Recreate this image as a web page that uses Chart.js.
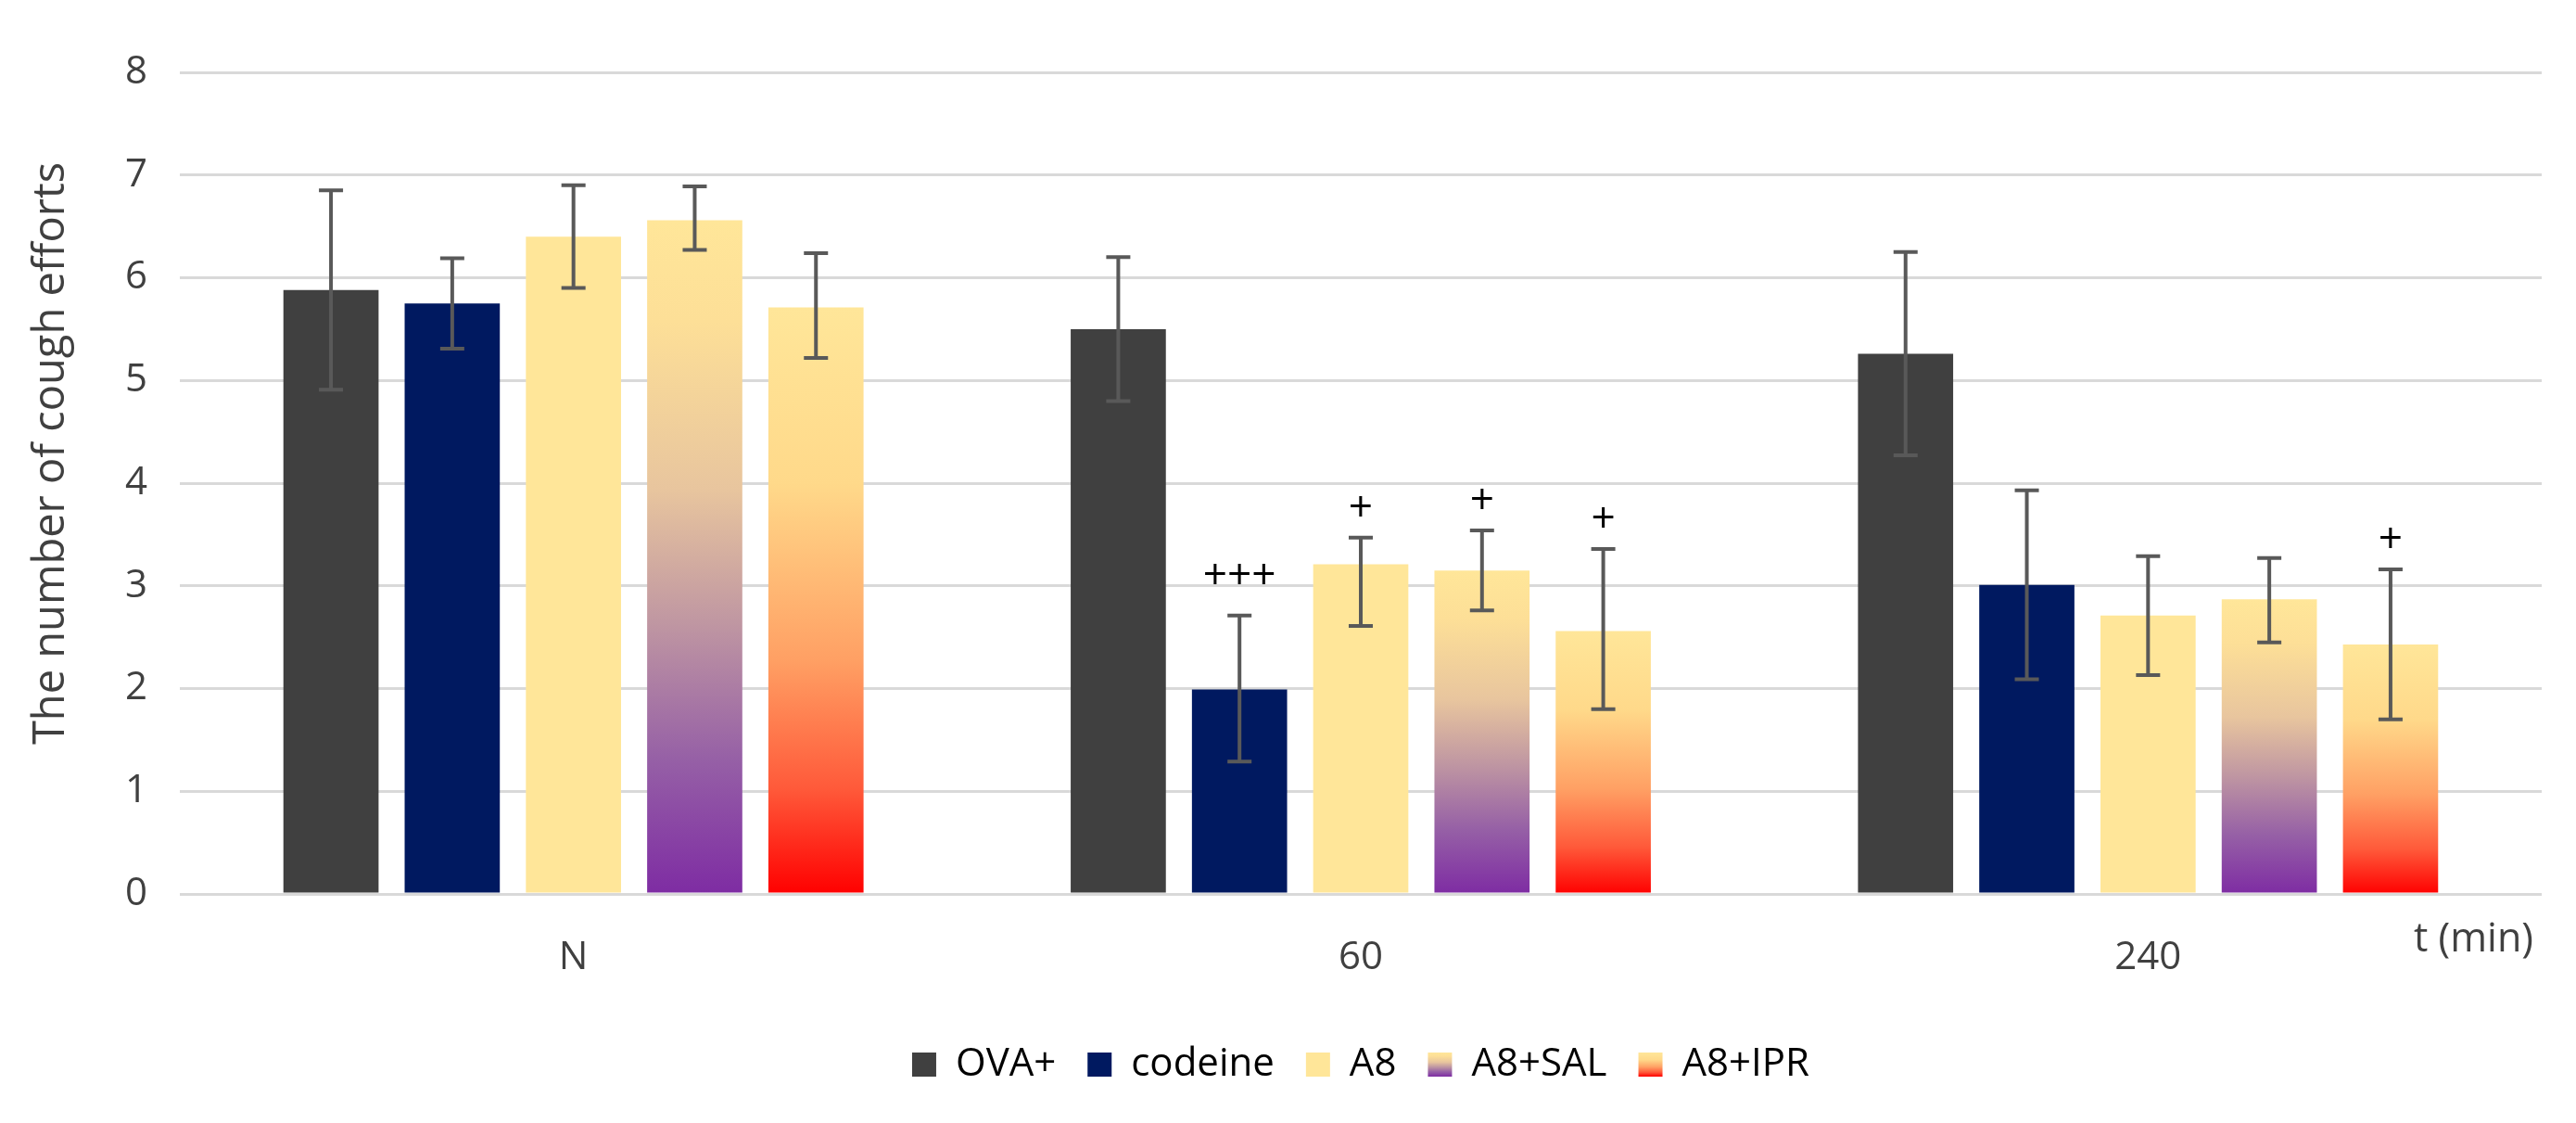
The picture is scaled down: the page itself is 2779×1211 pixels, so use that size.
<!DOCTYPE html>
<html>
<head>
<meta charset="utf-8">
<title>Cough efforts</title>
<script src="https://cdn.jsdelivr.net/npm/chart.js@4.4.1/dist/chart.umd.min.js"></script>
<style>
  html, body { margin: 0; padding: 0; background: #fff; }
  #wrap { width: 2779px; height: 1211px; position: relative; }
</style>
</head>
<body>
<div id="wrap"><canvas id="coughChart"></canvas></div>
<script>
// data
const categories = ['N', '60', '240'];
const seriesNames = ['OVA+', 'codeine', 'A8', 'A8+SAL', 'A8+IPR'];

const ovaValues = [5.88, 5.50, 5.26];
const codeineValues = [5.75, 1.99, 3.01];
const a8Values = [6.40, 3.21, 2.71];
const salValues = [6.56, 3.15, 2.87];
const iprValues = [5.71, 2.56, 2.43];

// error bars, upper and lower half
const ovaErrUp = [0.97, 0.70, 0.99];
const ovaErrDown = [0.97, 0.70, 0.99];
const codeineErrUp = [0.44, 0.72, 0.92];
const codeineErrDown = [0.44, 0.70, 0.92];
const a8ErrUp = [0.50, 0.26, 0.58];
const a8ErrDown = [0.50, 0.60, 0.58];
const salErrUp = [0.33, 0.39, 0.40];
const salErrDown = [0.29, 0.39, 0.42];
const iprErrUp = [0.53, 0.80, 0.73];
const iprErrDown = [0.49, 0.76, 0.73];

// significance marks above the error bars
const ovaMarks = ['', '', ''];
const codeineMarks = ['', '+++', ''];
const a8Marks = ['', '+', ''];
const salMarks = ['', '+', ''];
const iprMarks = ['', '+', '+'];

const yTicks = [0, 1, 2, 3, 4, 5, 6, 7, 8];

const FONT = "'Open Sans', 'Liberation Sans', sans-serif";

// gradient stops, top of bar -> bottom of bar
const salStops = [[0, '#FFE699'], [0.15, '#FDDF97'], [0.4, '#E8C59E'], [0.6, '#BF96A2'], [0.8, '#9660A6'], [1, '#7E2CA3']];
const iprStops = [[0, '#FFE699'], [0.3, '#FFD98A'], [0.6, '#FFA064'], [0.82, '#FF5A3A'], [1, '#FF0000']];

function barGradient(stops) {
    return function (ctx) {
        const chart = ctx.chart;
        if (!chart.chartArea || ctx.type !== 'data') return stops[0][1];
        const y = chart.scales.y;
        const top = y.getPixelForValue(ctx.raw);
        const base = y.getPixelForValue(0);
        if (!isFinite(top) || base - top < 1) return stops[0][1];
        const g = chart.ctx.createLinearGradient(0, top, 0, base);
        stops.forEach(s => g.addColorStop(s[0], s[1]));
        return g;
    };
}

const errUpSets = [ovaErrUp, codeineErrUp, a8ErrUp, salErrUp, iprErrUp];
const errDownSets = [ovaErrDown, codeineErrDown, a8ErrDown, salErrDown, iprErrDown];
const markSets = [ovaMarks, codeineMarks, a8Marks, salMarks, iprMarks];
const legendStops = [null, null, null, salStops, iprStops];

// error bars + significance marks
const errorBarPlugin = {
    id: 'errorBars',
    afterDatasetsDraw(chart) {
        const ctx = chart.ctx;
        const y = chart.scales.y;
        ctx.save();
        chart.data.datasets.forEach((ds, i) => {
            const meta = chart.getDatasetMeta(i);
            meta.data.forEach((bar, j) => {
                const v = ds.data[j];
                const yTop = y.getPixelForValue(v + errUpSets[i][j]);
                const yBot = y.getPixelForValue(v - errDownSets[i][j]);
                ctx.strokeStyle = '#595959';
                ctx.lineWidth = 4;
                ctx.beginPath();
                ctx.moveTo(bar.x, yTop);
                ctx.lineTo(bar.x, yBot);
                ctx.moveTo(bar.x - 13, yTop);
                ctx.lineTo(bar.x + 13, yTop);
                ctx.moveTo(bar.x - 13, yBot);
                ctx.lineTo(bar.x + 13, yBot);
                ctx.stroke();
                const mark = markSets[i][j];
                if (mark) {
                    ctx.fillStyle = '#000';
                    ctx.font = '46px ' + FONT;
                    ctx.textAlign = 'center';
                    ctx.textBaseline = 'middle';
                    ctx.fillText(mark, bar.x, yTop - (mark.length > 1 ? 42 : 31));
                }
            });
        });
        ctx.restore();
    }
};

// y title and the "t (min)" unit label
const extraTextPlugin = {
    id: 'extraText',
    afterDraw(chart) {
        const ctx = chart.ctx;
        const area = chart.chartArea;
        ctx.save();
        ctx.fillStyle = '#404040';
        ctx.font = '47px ' + FONT;
        ctx.textAlign = 'center';
        ctx.textBaseline = 'middle';
        ctx.translate(56, (area.top + area.bottom) / 2 - 32);
        ctx.rotate(-Math.PI / 2);
        ctx.fillText('The number of cough efforts', 0, 0);
        ctx.restore();

        ctx.save();
        ctx.fillStyle = '#404040';
        ctx.font = '43px ' + FONT;
        ctx.textAlign = 'right';
        ctx.textBaseline = 'middle';
        ctx.fillText('t (min)', area.right - 9, area.bottom + 50);
        ctx.restore();
    }
};

// legend centred under the plot area, gradient legend boxes
const legendPlugin = {
    id: 'legendTweak',
    afterLayout(chart) {
        const lg = chart.legend;
        const shift = (chart.chartArea.left + chart.chartArea.right) / 2 - (lg.left + lg.right) / 2;
        lg.left += shift;
        lg.right += shift;
    },
    beforeDraw(chart) {
        const lg = chart.legend;
        if (!lg || !lg.legendHitBoxes) return;
        lg.legendItems.forEach((item, i) => {
            const stops = legendStops[item.datasetIndex];
            const hit = lg.legendHitBoxes[i];
            if (!stops || !hit) return;
            const top = hit.top + Math.max((42 - 26) / 2, 0);
            const g = chart.ctx.createLinearGradient(0, top, 0, top + 26);
            stops.forEach(s => g.addColorStop(s[0], s[1]));
            item.fillStyle = g;
        });
    }
};

function makeDataset(label, data, color) {
    return {
        label: label,
        data: data,
        backgroundColor: color,
        borderWidth: 0,
        categoryPercentage: 0.77,
        barPercentage: 0.785
    };
}

const chart = new Chart(document.getElementById('coughChart'), {
    type: 'bar',
    data: {
        labels: categories,
        datasets: [
            makeDataset(seriesNames[0], ovaValues, '#404040'),
            makeDataset(seriesNames[1], codeineValues, '#001960'),
            makeDataset(seriesNames[2], a8Values, '#FFE699'),
            makeDataset(seriesNames[3], salValues, barGradient(salStops)),
            makeDataset(seriesNames[4], iprValues, barGradient(iprStops))
        ]
    },
    options: {
        responsive: true,
        maintainAspectRatio: false,
        devicePixelRatio: 1,
        animation: false,
        layout: { padding: { left: 0, right: 37, top: 78, bottom: 32 } },
        plugins: {
            legend: {
                position: 'bottom',
                labels: {
                    boxWidth: 26,
                    boxHeight: 26,
                    padding: 34,
                    color: '#000',
                    font: { family: FONT, size: 42 }
                }
            },
            tooltip: { enabled: false }
        },
        scales: {
            x: {
                grid: { display: false },
                border: { display: false },
                ticks: { color: '#404040', padding: 36, font: { family: FONT, size: 42 } },
                afterFit(scale) { scale.height = 129; }
            },
            y: {
                min: yTicks[0],
                max: yTicks[yTicks.length - 1],
                afterBuildTicks(scale) { scale.ticks = yTicks.map(v => ({ value: v })); },
                grid: { color: '#D9D9D9', lineWidth: 3, drawTicks: false },
                border: { display: false },
                ticks: { color: '#404040', padding: 35, font: { family: FONT, size: 42 } },
                afterFit(scale) { scale.width = 194; }
            }
        }
    },
    plugins: [errorBarPlugin, extraTextPlugin, legendPlugin]
});
</script>
</body>
</html>
